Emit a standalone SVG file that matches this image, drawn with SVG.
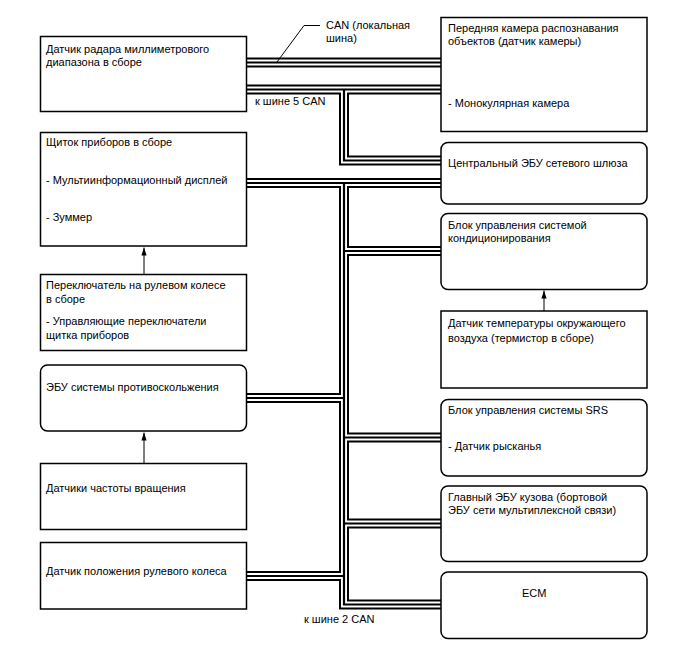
<svg xmlns="http://www.w3.org/2000/svg" xmlns:xlink="http://www.w3.org/1999/xlink" width="688" height="658" viewBox="0 0 688 658">
<style>
  .box { fill: #fff; stroke: #000; stroke-width: 1.5; }
  .t { font-family: "Liberation Sans", Arial, sans-serif; font-size: 11px; fill: #000; }
  .busO { fill: none; stroke: #000; stroke-width: 10; stroke-linejoin: miter; }
  .busW { fill: none; stroke: #fff; stroke-width: 6; stroke-linejoin: miter; }
  .busI { fill: none; stroke: #000; stroke-width: 2.2; stroke-linejoin: miter; }
  .arr { fill: none; stroke: #000; stroke-width: 1; }
  .lead { fill: none; stroke: #000; stroke-width: 1; }
</style>
<defs>
  <marker id="ah" markerUnits="userSpaceOnUse" viewBox="0 0 8 6" markerWidth="8" markerHeight="6" refX="8" refY="3" orient="auto">
    <path d="M0,0.4 L8,3 L0,5.6 z" fill="#000"/>
  </marker>
  <path id="bus1" d="M246,62.5 H441"/>
  <path id="bus5" d="M246,89.5 H441 M344,89.5 V160.5 H441"/>
  <path id="bus2" d="M246,183 H441 M344,183 V604.5 H441 M246,398 H344 M344,251 H441 M344,437.5 H441 M344,523.5 H441 M246,576 H344"/>
</defs>
<rect width="688" height="658" fill="#fff"/>
<g id="connectors">
  <use xlink:href="#bus1" class="busO"/>
  <use xlink:href="#bus5" class="busO"/>
  <use xlink:href="#bus2" class="busO"/>
  <use xlink:href="#bus1" class="busW"/>
  <use xlink:href="#bus5" class="busW"/>
  <use xlink:href="#bus2" class="busW"/>
  <use xlink:href="#bus1" class="busI"/>
  <use xlink:href="#bus5" class="busI"/>
  <use xlink:href="#bus2" class="busI"/>
  <path class="arr" d="M144,274.5 V247.5" marker-end="url(#ah)"/>
  <path class="arr" d="M144,463.5 V432.5" marker-end="url(#ah)"/>
  <path class="arr" d="M544,311 V290.5" marker-end="url(#ah)"/>
  <polyline class="lead" points="277,62 304,25.5 320,25.5"/>
  <text class="t" x="326" y="28.5">CAN (локальная</text>
  <text class="t" x="326" y="42">шина)</text>
  <text class="t" x="255" y="104.5">к шине 5 CAN</text>
  <text class="t" x="304" y="622.5">к шине 2 CAN</text>
</g>
<g id="radar">
  <rect class="box" x="40.5" y="36.5" width="206" height="75"/>
  <text class="t" x="46" y="53">Датчик радара миллиметрового</text>
  <text class="t" x="46" y="65.5">диапазона в сборе</text>
</g>
<g id="camera">
  <rect class="box" x="441" y="17.5" width="206" height="114"/>
  <text class="t" x="448" y="32">Передняя камера распознавания</text>
  <text class="t" x="448" y="45">объектов (датчик камеры)</text>
  <text class="t" x="448" y="107">- Монокулярная камера</text>
</g>
<g id="cluster">
  <rect class="box" x="40.5" y="132.5" width="206" height="113.5"/>
  <text class="t" x="46" y="146">Щиток приборов в сборе</text>
  <text class="t" x="46" y="183.5">- Мультиинформационный дисплей</text>
  <text class="t" x="46" y="220.5">- Зуммер</text>
</g>
<g id="switch">
  <rect class="box" x="40.5" y="274.5" width="206" height="76"/>
  <text class="t" x="46" y="289">Переключатель на рулевом колесе</text>
  <text class="t" x="46" y="302.5">в сборе</text>
  <text class="t" x="46" y="325">- Управляющие переключатели</text>
  <text class="t" x="46" y="338.5">щитка приборов</text>
</g>
<g id="abs">
  <rect class="box" x="40.5" y="365" width="206" height="66" rx="7"/>
  <text class="t" x="46" y="390.5">ЭБУ системы противоскольжения</text>
</g>
<g id="speed">
  <rect class="box" x="40.5" y="463.5" width="206" height="66"/>
  <text class="t" x="46" y="492">Датчики частоты вращения</text>
</g>
<g id="steer">
  <rect class="box" x="40.5" y="542.5" width="206" height="66.5"/>
  <text class="t" x="46" y="574.5">Датчик положения рулевого колеса</text>
</g>
<g id="gateway">
  <rect class="box" x="441" y="142.5" width="206" height="61.5" rx="7"/>
  <text class="t" x="448" y="166.5">Центральный ЭБУ сетевого шлюза</text>
</g>
<g id="ac">
  <rect class="box" x="441" y="213.5" width="206" height="76" rx="7"/>
  <text class="t" x="448" y="228.5">Блок управления системой</text>
  <text class="t" x="448" y="242">кондиционирования</text>
</g>
<g id="thermistor">
  <rect class="box" x="441" y="311" width="206" height="77"/>
  <text class="t" x="448" y="327">Датчик температуры окружающего</text>
  <text class="t" x="448" y="341.5">воздуха (термистор в сборе)</text>
</g>
<g id="srs">
  <rect class="box" x="441" y="399.5" width="206" height="76.5" rx="7"/>
  <text class="t" x="448" y="413.5">Блок управления системы SRS</text>
  <text class="t" x="448" y="450">- Датчик рысканья</text>
</g>
<g id="body">
  <rect class="box" x="441" y="486" width="206" height="75.5" rx="7"/>
  <text class="t" x="448" y="501">Главный ЭБУ кузова (бортовой</text>
  <text class="t" x="448" y="513.5">ЭБУ сети мультиплексной связи)</text>
</g>
<g id="ecm">
  <rect class="box" x="441" y="572" width="206" height="66.5" rx="7"/>
  <text class="t" x="522" y="597">ECM</text>
</g>
</svg>
